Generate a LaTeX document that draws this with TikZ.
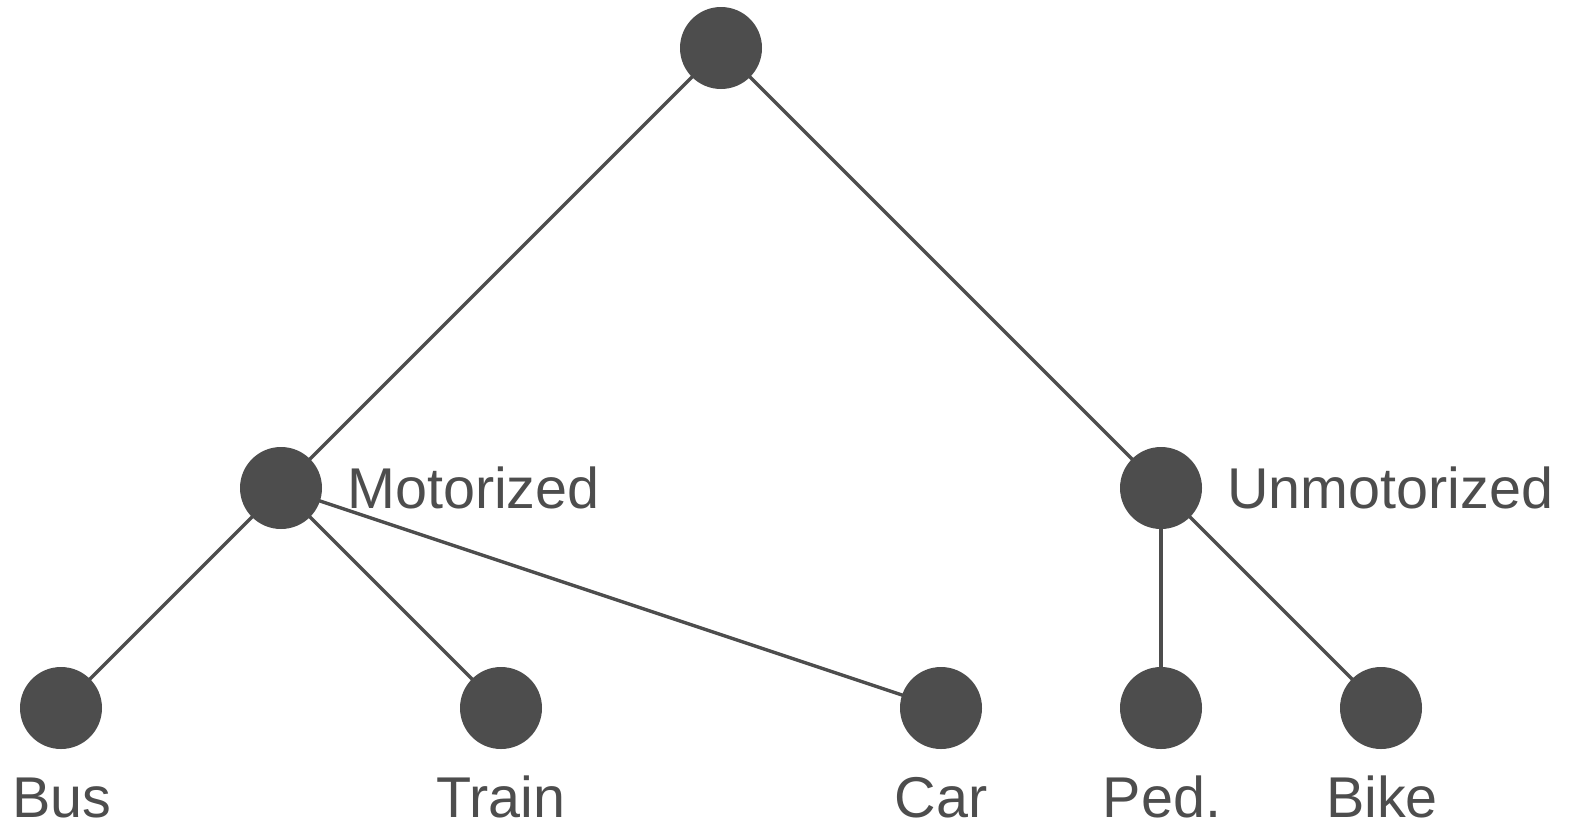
\documentclass[tikz,border=0pt]{standalone}
\usepackage{fontspec}
\setmainfont{Liberation Sans}
\definecolor{ink}{HTML}{4D4D4D}
\begin{document}
\begin{tikzpicture}[x=1pt,y=-1pt,
  dot/.style={circle,fill=ink,minimum size=82pt,inner sep=0pt},
  edge/.style={draw=ink,line width=3.4pt},
  lbl/.style={text=ink,inner sep=0pt,font=\fontsize{57.5}{60}\selectfont}]
\useasboundingbox (0,0) rectangle (1571,823);
\coordinate (r) at (721,48);
\coordinate (m) at (281,488);
\coordinate (u) at (1161,488);
\coordinate (bus) at (61,708);
\coordinate (train) at (501,708);
\coordinate (car) at (941,708);
\coordinate (ped) at (1161,708);
\coordinate (bike) at (1381,708);
\draw[edge] (r) -- (m);
\draw[edge] (r) -- (u);
\draw[edge] (m) -- (bus);
\draw[edge] (m) -- (train);
\draw[edge] (m) -- (car);
\draw[edge] (u) -- (ped);
\draw[edge] (u) -- (bike);
\foreach \n in {r,m,u,bus,train,car,ped,bike}
  \node[dot] (n\n) at (\n) {};
\node[lbl,anchor=base west] (lm) at (347,508) {Motorized};
\node[lbl,anchor=base west] (lu) at (1227,508) {Unmotorized};
\node[lbl,anchor=base] (lbus) at (62,817) {Bus};
\node[lbl,anchor=base] (ltrain) at (501,817) {Train};
\node[lbl,anchor=base] (lcar) at (941,817) {Car};
\node[lbl,anchor=base] (lped) at (1162,817) {Ped.};
\node[lbl,anchor=base] (lbike) at (1382,817) {Bike};
\end{tikzpicture}
\end{document}
